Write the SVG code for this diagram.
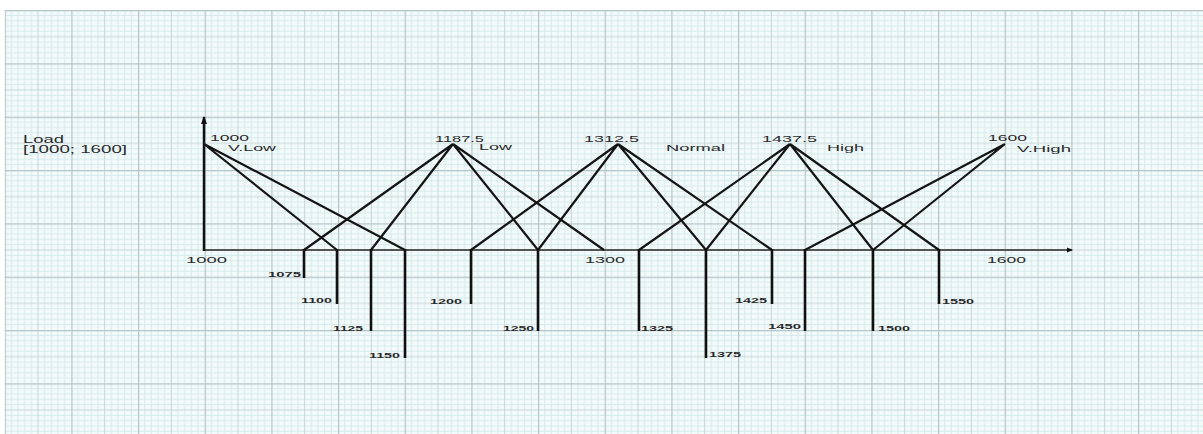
<svg xmlns="http://www.w3.org/2000/svg" width="1203" height="434" viewBox="0 0 1203 434">
<defs>
<pattern id="grid" patternUnits="userSpaceOnUse" x="4.67" y="10" width="66.667" height="53.333">
<rect width="66.667" height="53.333" fill="#f2fafa"/>
<g stroke="#d8eaec" stroke-width="1">
<path d="M6.667 0V53.333M13.333 0V53.333M20 0V53.333M26.667 0V53.333M40 0V53.333M46.667 0V53.333M53.333 0V53.333M60 0V53.333"/>
<path d="M0 5.333H66.667M0 10.667H66.667M0 16H66.667M0 21.333H66.667M0 32H66.667M0 37.333H66.667M0 42.667H66.667M0 48H66.667"/>
</g>
<g stroke="#c6d6d9" stroke-width="1">
<path d="M33.333 0V53.333M0 26.667H66.667"/>
</g>
<g stroke="#b5c4c8" stroke-width="1.4">
<path d="M0.5 0V53.333M0 0.5H66.667"/>
</g>
</pattern>
<marker id="arrV" markerWidth="8" markerHeight="8" refX="7" refY="4" orient="auto" markerUnits="userSpaceOnUse">
<path d="M0 1 L8 4 L0 7 Z" fill="#111"/>
</marker>
<marker id="arrH" markerWidth="6" markerHeight="6" refX="5" refY="3" orient="auto" markerUnits="userSpaceOnUse">
<path d="M0 0.5 L6 3 L0 5.5 Z" fill="#111"/>
</marker>
<style>
.t{font-family:"Liberation Sans",Arial,sans-serif;fill:#2a2a2a;}
.pk{font-size:9.5px;}
.sm{font-size:8px;font-weight:bold;}
.ln{stroke:#151515;stroke-width:2.2;fill:none;}
.dr{stroke:#111;stroke-width:2.6;fill:none;}
</style>
</defs>
<rect width="1203" height="434" fill="#ffffff"/>
<rect x="4.67" y="10" width="1198.33" height="424" fill="url(#grid)"/>

<g id="axes">
<line x1="204" y1="250" x2="1072" y2="250" stroke="#555" stroke-width="2" marker-end="url(#arrH)"/>
<line x1="204" y1="251" x2="204" y2="117" stroke="#111" stroke-width="2.5" marker-end="url(#arrV)"/>
</g>

<g id="connectors">
<path class="ln" d="M204 144L337 250M204 144L405 250"/>
<path class="ln" d="M453 144L304 250M453 144L371 250M453 144L538 250M453 144L604 250"/>
<path class="ln" d="M618 144L471 250M618 144L538 250M618 144L706 250M618 144L772 250"/>
<path class="ln" d="M790 144L639 250M790 144L706 250M790 144L873 250M790 144L939 250"/>
<path class="ln" d="M1005 144L805 250M1005 144L873 250"/>
<path class="dr" d="M304 249V278M337 249V304M371 249V331M405 249V358M471 249V304M538 249V331M639 249V331M706 249V358M772 249V304M805 249V331M873 249V331M939 249V304"/>
</g>

<g id="load-label">
<text class="t" x="23" y="143" font-size="10" textLength="41" lengthAdjust="spacingAndGlyphs">Load</text>
<text class="t" x="23" y="153" font-size="10" textLength="104" lengthAdjust="spacingAndGlyphs">[1000; 1600]</text>
</g>

<g id="vlow">
<text class="t pk" x="210" y="141" textLength="39" lengthAdjust="spacingAndGlyphs">1000</text>
<text class="t pk" x="228" y="151" textLength="48" lengthAdjust="spacingAndGlyphs">V.Low</text>
</g>
<g id="low">
<text class="t pk" x="435" y="142" textLength="49" lengthAdjust="spacingAndGlyphs">1187.5</text>
<text class="t pk" x="479" y="150" textLength="33" lengthAdjust="spacingAndGlyphs">Low</text>
</g>
<g id="normal">
<text class="t pk" x="584" y="142" textLength="55" lengthAdjust="spacingAndGlyphs">1312.5</text>
<text class="t pk" x="666" y="151" textLength="59" lengthAdjust="spacingAndGlyphs">Normal</text>
</g>
<g id="high">
<text class="t pk" x="762" y="142" textLength="55" lengthAdjust="spacingAndGlyphs">1437.5</text>
<text class="t pk" x="827" y="151" textLength="37" lengthAdjust="spacingAndGlyphs">High</text>
</g>
<g id="vhigh">
<text class="t pk" x="988" y="141" textLength="39" lengthAdjust="spacingAndGlyphs">1600</text>
<text class="t pk" x="1017" y="152" textLength="54" lengthAdjust="spacingAndGlyphs">V.High</text>
</g>

<g id="axis-labels">
<text class="t pk" x="186" y="263" textLength="41" lengthAdjust="spacingAndGlyphs">1000</text>
<text class="t pk" x="585" y="263" textLength="40" lengthAdjust="spacingAndGlyphs">1300</text>
<text class="t pk" x="987" y="263" textLength="39" lengthAdjust="spacingAndGlyphs">1600</text>
</g>

<g id="tick-labels">
<text class="t sm" x="268" y="277" textLength="33" lengthAdjust="spacingAndGlyphs">1075</text>
<text class="t sm" x="301" y="303" textLength="31" lengthAdjust="spacingAndGlyphs">1100</text>
<text class="t sm" x="333" y="331" textLength="30" lengthAdjust="spacingAndGlyphs">1125</text>
<text class="t sm" x="369" y="358" textLength="31" lengthAdjust="spacingAndGlyphs">1150</text>
<text class="t sm" x="430" y="304" textLength="32" lengthAdjust="spacingAndGlyphs">1200</text>
<text class="t sm" x="503" y="331" textLength="31" lengthAdjust="spacingAndGlyphs">1250</text>
<text class="t sm" x="641" y="331" textLength="32" lengthAdjust="spacingAndGlyphs">1325</text>
<text class="t sm" x="709" y="357" textLength="32" lengthAdjust="spacingAndGlyphs">1375</text>
<text class="t sm" x="735" y="303" textLength="32" lengthAdjust="spacingAndGlyphs">1425</text>
<text class="t sm" x="768" y="329" textLength="33" lengthAdjust="spacingAndGlyphs">1450</text>
<text class="t sm" x="878" y="331" textLength="32" lengthAdjust="spacingAndGlyphs">1500</text>
<text class="t sm" x="942" y="304" textLength="32" lengthAdjust="spacingAndGlyphs">1550</text>
</g>
</svg>
